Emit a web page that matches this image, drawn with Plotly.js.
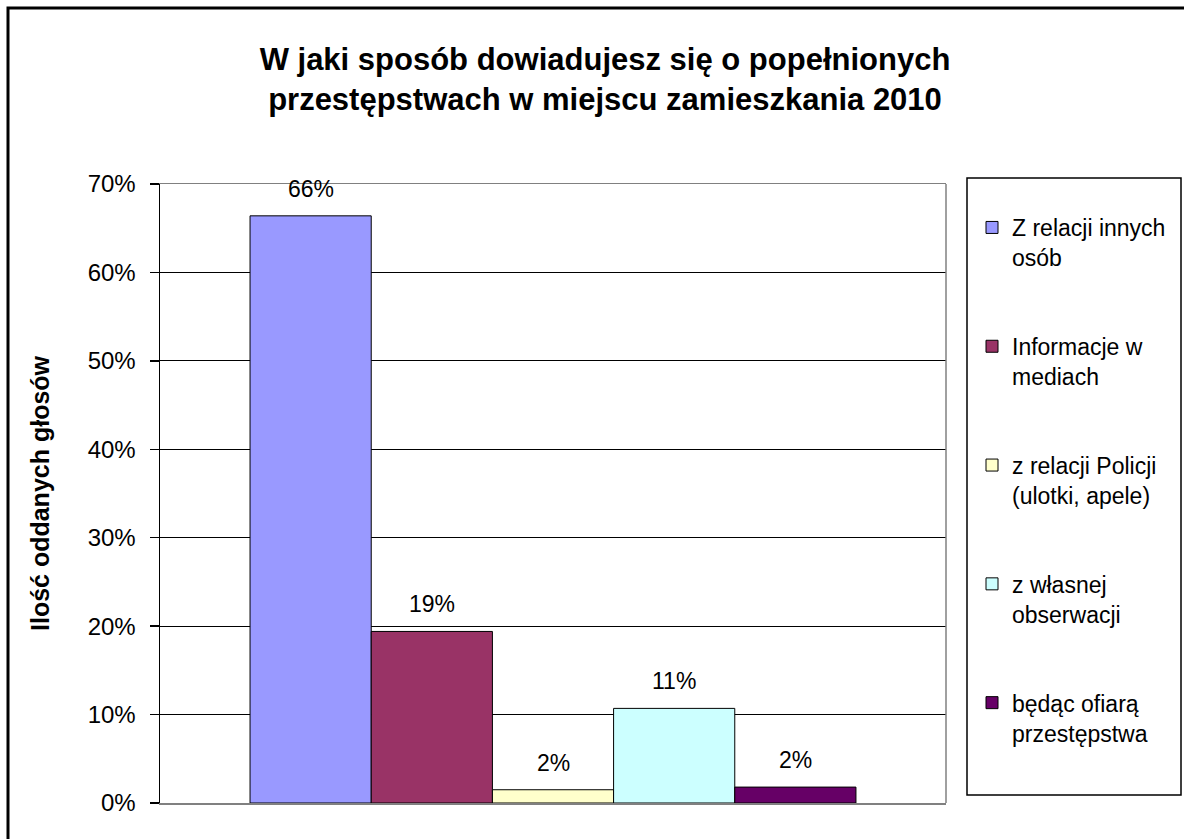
<!DOCTYPE html>
<html>
<head>
<meta charset="utf-8">
<script src="https://cdn.plot.ly/plotly-3.0.1.min.js"></script>
<style>
html,body{margin:0;padding:0;background:#fff;}
#chart{width:1184px;height:839px;}
</style>
</head>
<body>
<div id="chart"></div>
<script>
// ---- data ----
const seriesNames = [
  "Z relacji innych<br>osób",
  "Informacje w<br>mediach",
  "z relacji Policji<br>(ulotki, apele)",
  "z własnej<br>obserwacji",
  "będąc ofiarą<br>przestępstwa"
];
const seriesValues = [0.664, 0.194, 0.015, 0.107, 0.018];
const seriesColors = ["#9999FF", "#993366", "#FFFFCC", "#CCFFFF", "#660066"];
const yTickVals = [0, 0.1, 0.2, 0.3, 0.4, 0.5, 0.6, 0.7];
const yTickText = ["0%", "10%", "20%", "30%", "40%", "50%", "60%", "70%"];
const chartTitle = "W jaki sposób dowiadujesz się o popełnionych<br>przestępstwach w miejscu zamieszkania 2010";
const yTitle = "Ilość oddanych głosów";

// ---- layout constants ----
const W = 1184, H = 839;
const ML = 160, MR = 238, MT = 184, MB = 36;
const PW = W - ML - MR, PH = H - MT - MB;
const FONT = "Liberation Sans, Arial, sans-serif";
const pxX = px => (px - ML) / PW;
const pxY = py => (H - MB - py) / PH;

const traces = seriesNames.map((name, i) => ({
  type: "bar",
  x: [i],
  y: [seriesValues[i]],
  width: [1],
  name: name,
  legendgroup: "g" + i,
  marker: {color: seriesColors[i], line: {color: "#000", width: 1}},
  hoverinfo: "name+y"
}));

const annotations = seriesValues.map((v, i) => ({
  x: i, y: v, xref: "x", yref: "y",
  text: Math.round(v * 100) + "%",
  showarrow: false, yanchor: "bottom", yshift: 12,
  font: {family: FONT, size: 23, color: "#000"}
}));

const shapes = [
  // right plot border (grey)
  {type: "line", xref: "paper", yref: "paper", x0: 1, x1: 1, y0: 0, y1: 1,
   line: {color: "#808080", width: 1.5}},
  // outer chart frame (top-left visible part)
  {type: "rect", xref: "paper", yref: "paper",
   x0: pxX(8), x1: pxX(1260), y0: pxY(8), y1: pxY(900),
   line: {color: "#000", width: 3}, fillcolor: "rgba(0,0,0,0)", layer: "below"},
  // legend frame
  {type: "rect", xref: "paper", yref: "paper",
   x0: pxX(967), x1: pxX(1181), y0: pxY(178), y1: pxY(795),
   line: {color: "#000", width: 1.5}, fillcolor: "rgba(0,0,0,0)"}
];

const layout = {
  width: W, height: H,
  margin: {l: ML, r: MR, t: MT, b: MB, pad: 0, autoexpand: false},
  paper_bgcolor: "#fff", plot_bgcolor: "#fff",
  font: {family: FONT, size: 23, color: "#000"},
  showlegend: true,
  barmode: "overlay",
  bargap: 0,
  title: {
    text: chartTitle,
    font: {family: FONT, size: 31, color: "#000", weight: "bold"},
    xref: "paper", x: pxX(605), xanchor: "center",
    yref: "container", y: 1 - 70 / H, yanchor: "top"
  },
  xaxis: {
    range: [-1.243, 5.243],
    showticklabels: false, ticks: "",
    showgrid: false, zeroline: false,
    showline: true, mirror: true, linecolor: "#808080", linewidth: 1.5,
    fixedrange: true
  },
  yaxis: {
    range: [0, 0.7],
    tickvals: yTickVals, ticktext: yTickText,
    ticks: "outside", ticklen: 9, tickwidth: 1.5, tickcolor: "#000",
    ticklabelstandoff: 9,
    showgrid: true, gridcolor: "#000", gridwidth: 1,
    zeroline: false,
    showline: true, linecolor: "#000", linewidth: 1.5,
    tickfont: {family: FONT, size: 24, color: "#000"},
    title: {text: yTitle, standoff: 31,
            font: {family: FONT, size: 25, color: "#000", weight: "bold"}},
    automargin: false,
    fixedrange: true
  },
  legend: {
    x: pxX(972), xanchor: "left",
    y: pxY(206), yanchor: "top",
    borderwidth: 0, bgcolor: "rgba(0,0,0,0)",
    font: {family: FONT, size: 23, color: "#000"},
    traceorder: "grouped", tracegroupgap: 56,
    valign: "top",
    maxheight: 800,
    itemclick: false, itemdoubleclick: false
  },
  annotations: annotations,
  shapes: shapes
};

Plotly.newPlot("chart", traces, layout, {displayModeBar: false, staticPlot: true});
</script>
</body>
</html>
